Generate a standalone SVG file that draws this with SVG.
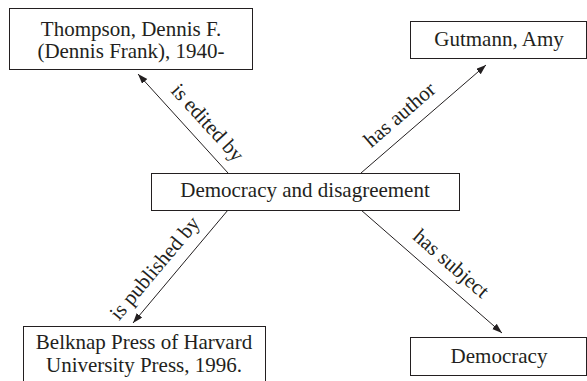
<svg xmlns="http://www.w3.org/2000/svg" width="587" height="381" viewBox="0 0 587 381">
<defs>
<style>
.box{fill:#fff;stroke:#231f20;stroke-width:1}
.t{font-family:"Liberation Serif","Times New Roman",serif;font-size:21px;fill:#231f20;text-anchor:middle}
.e{stroke:#231f20;stroke-width:1;fill:none;marker-end:url(#ah)}
</style>
<marker id="ah" markerUnits="userSpaceOnUse" markerWidth="11" markerHeight="8" refX="10" refY="3.5" orient="auto">
<path d="M0,0 L10,3.5 L0,7 z" fill="#231f20"/>
</marker>
</defs>
<rect width="587" height="381" fill="#fff"/>
<g id="connectors">
<line class="e" x1="228" y1="173" x2="138" y2="74"/>
<line class="e" x1="361" y1="173" x2="486" y2="65"/>
<line class="e" x1="228" y1="210" x2="133" y2="323"/>
<line class="e" x1="361" y1="210" x2="502" y2="333"/>
<text class="t" transform="translate(193.7,135.3) rotate(47.7)" y="-12">is edited by</text>
<text class="t" transform="translate(412,128.9) rotate(-40.8)" y="-12">has author</text>
<text class="t" transform="translate(169.1,280.2) rotate(-50)" y="-12">is published by</text>
<text class="t" transform="translate(438.7,277.7) rotate(41.1)" y="-12">has subject</text>
</g>
<g id="thompson">
<rect class="box" x="9.5" y="8.5" width="243" height="61"/>
<text class="t" x="131" y="36">Thompson, Dennis F.</text>
<text class="t" x="131" y="58">(Dennis Frank), 1940-</text>
</g>
<g id="gutmann">
<rect class="box" x="410.5" y="21.5" width="176" height="37"/>
<text class="t" x="499" y="46">Gutmann, Amy</text>
</g>
<g id="democracy-and-disagreement">
<rect class="box" x="151.5" y="173.5" width="308" height="37"/>
<text class="t" x="305" y="197">Democracy and disagreement</text>
</g>
<g id="belknap">
<rect class="box" x="23.5" y="326.5" width="242" height="60"/>
<text class="t" x="144" y="349">Belknap Press of Harvard</text>
<text class="t" x="144" y="372">University Press, 1996.</text>
</g>
<g id="democracy">
<rect class="box" x="410.5" y="337.5" width="176" height="38"/>
<text class="t" x="499" y="363">Democracy</text>
</g>
</svg>
